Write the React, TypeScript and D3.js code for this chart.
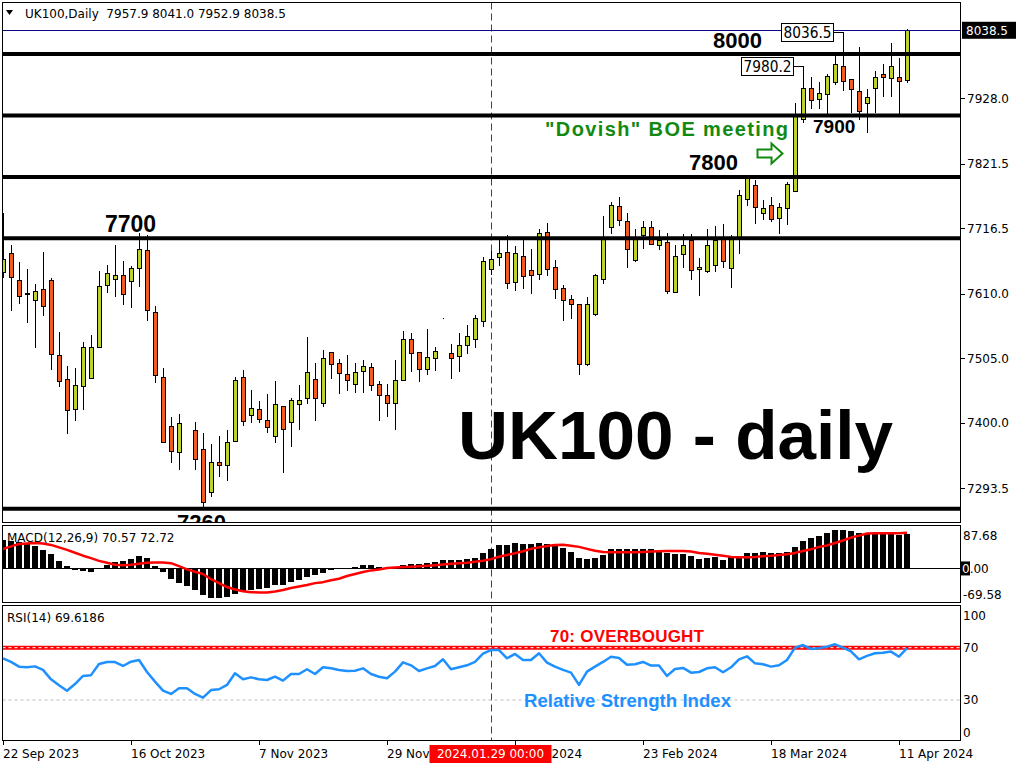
import React from 'react';
import * as d3 from 'd3';

// ---------- DATA ----------
const opens: (number | null)[] = [
  7645, 7677, 7633, 7611, 7599, 7617, 7632, 7510, 7471, 7422,
  7461, 7472, 7523, 7624, 7633, 7640, 7630, 7651, 7681, 7580,
  7474, 7394, 7352, null, 7389, 7357, 7287, 7336, 7331, 7370,
  7474, 7412, 7422, 7405, 7378, 7428, 7401, 7430, 7440, 7471,
  7432, 7515, 7497, 7480, 7463, 7484, 7490, 7463, 7445, 7432,
  7469, 7537, 7515, 7487, 7505, 7570, 7513, 7508, 7526, 7536,
  7565, 7650, 7669, 7678, 7629, 7672, 7648, 7643, 7711, 7654,
  7620, 7601, 7594, 7495, 7576, 7635, 7718, 7752, 7728, 7664,
  7705, 7718, 7690, 7694, 7612, 7674, 7698, 7650, 7646, 7657,
  7700, 7653, 7703, 7765, 7787, 7741, 7755, 7733, 7749, 7777,
  7894, 7944, 7926, 7935, 7954, 7981, 7959, 7940, 7920, 7944,
  7967, 7962, 7962, 7957.9,
];
const highs: (number | null)[] = [
  7741, 7690, 7661, 7650, 7625, 7678, 7635, 7548, 7492, 7489,
  7531, 7543, 7647, 7657, 7690, 7663, 7655, 7708, 7706, 7590,
  7489, 7409, 7414, null, 7401, 7383, 7365, 7378, 7389, 7474,
  7486, 7453, 7435, 7447, 7468, 7428, 7440, 7462, 7540, 7497,
  7518, 7515, 7504, 7510, 7497, 7502, 7497, 7468, 7463, 7502,
  7549, 7546, 7515, 7553, 7523, 7571, 7528, 7546, 7559, 7575,
  7669, 7680, 7697, 7706, 7688, 7697, 7683, 7715, 7725, 7665,
  7624, 7608, 7594, 7605, 7642, 7736, 7759, 7767, 7742, 7715,
  7728, 7728, 7713, 7708, 7689, 7707, 7707, 7668, 7715, 7720,
  7723, 7706, 7778, 7800, 7795, 7762, 7767, 7758, 7792, 7920,
  7980.2, 7962, 7955, 7968, 7996, 8036.5, 7960, 8011, 7943, 7973,
  7983, 8018, 7994, 8041.0,
];
const lows: (number | null)[] = [
  7635, 7582, 7594, 7563, 7521, 7574, 7486, 7459, 7382, 7403,
  7420, 7471, 7521, 7611, 7604, 7591, 7586, 7621, 7566, 7465,
  7368, 7335, 7324, null, 7324, 7263, 7280, 7311, 7306, 7368,
  7395, 7399, 7399, 7383, 7367, 7319, 7360, 7389, 7431, 7403,
  7425, 7471, 7447, 7452, 7449, 7449, 7452, 7403, 7410, 7389,
  7469, 7482, 7466, 7477, 7484, 7569, 7472, 7483, 7512, 7521,
  7556, 7640, 7655, 7618, 7614, 7618, 7610, 7633, 7638, 7602,
  7566, 7569, 7477, 7493, 7573, 7625, 7707, 7720, 7651, 7661,
  7683, 7689, 7681, 7609, 7611, 7652, 7633, 7606, 7644, 7646,
  7652, 7620, 7674, 7752, 7723, 7730, 7726, 7707, 7722, 7777,
  7888, 7910, 7910, 7903, 7950, 7939, 7904, 7893, 7872, 7904,
  7930, 7930, 7903, 7952.9,
];
const closes: (number | null)[] = [
  7666, 7638, 7607, 7610, 7614, 7589, 7511, 7467, 7420, 7461,
  7524, 7523, 7622, 7643, 7640, 7609, 7651, 7682, 7583, 7477,
  7369, 7354, 7399, null, 7342, 7271, 7336, 7331, 7368, 7469,
  7402, 7424, 7406, 7393, 7430, 7391, 7437, 7437, 7482, 7440,
  7505, 7495, 7480, 7471, 7482, 7492, 7461, 7445, 7432, 7469,
  7536, 7515, 7487, 7507, 7516, 7570, 7505, 7526, 7541, 7570,
  7663, 7667, 7676, 7627, 7676, 7640, 7640, 7709, 7651, 7619,
  7601, 7593, 7497, 7593, 7640, 7703, 7754, 7729, 7682, 7700,
  7718, 7690, 7698, 7614, 7671, 7689, 7649, 7654, 7689, 7697,
  7662, 7703, 7771, 7799, 7752, 7749, 7733, 7751, 7788, 7900,
  7944, 7925, 7936, 7964, 7984, 7957, 7942, 7907, 7930, 7962,
  7962, 7981, 7955, 8038.5,
];

const macdHist: number[] = [
  58, 56, 53, 51, 45, 38, 29, 16, 4, -3,
  -5, -7, -2, 8, 13, 16, 20, 26, 22, 5,
  -7, -21, -29, -36, -44, -55, -60, -61, -59, -53,
  -47, -44, -43, -39, -34, -33, -28, -24, -17, -13,
  -9, -4, -1, 0, 3, 6, 6, 3, 1, 3,
  8, 10, 10, 11, 13, 17, 17, 17, 19, 21,
  32, 40, 47, 47, 51, 49, 49, 52, 50, 50,
  42, 34, 22, 20, 22, 28, 40, 40, 40, 40,
  40, 40, 35, 31, 29, 29, 25, 20, 21, 23,
  18, 26, 26, 32, 32, 34, 32, 32, 34, 44,
  57, 63, 67, 72, 79, 79, 77, 73, 73, 73,
  73, 73, 68, 70.57,
];
const macdSignal: number[] = [
  39.8, 45, 50, 51, 52, 51, 48, 43, 38, 32,
  26, 21, 15.5, 11.5, 7.4, 6.7, 7.4, 9.4, 11.5, 12,
  12, 10.8, 4.7, -2, -6.7, -11.5, -22, -30, -38, -43,
  -46.5, -48.5, -49, -49, -47, -44, -40, -37, -34, -30,
  -28, -24, -21, -15.5, -11.5, -7.4, -4, -2, 0.7, 2,
  2.7, 3.4, 4.7, 5.4, 6.7, 8, 9.4, 10.8, 11.5, 13.5,
  15.5, 19, 24, 27.6, 31, 35, 40, 43, 46, 48,
  48.5, 46.5, 44, 40, 36, 33.7, 33, 33, 33, 33,
  33.7, 34.4, 35, 35.7, 35.7, 35.7, 34.4, 31.7, 30, 28,
  26, 23.6, 23, 23, 23.6, 25, 26, 27.6, 29, 31.7,
  35.7, 39, 44, 47, 52, 57, 63, 67, 71.4, 72,
  72, 72, 72, 72.72,
];
const rsiValues: number[] = [
  61.9, 59.1, 55.5, 55, 55.7, 53, 45.8, 41.2, 37.1, 42.2,
  48.4, 49, 57.5, 59, 59, 56, 59.3, 60.6, 51.4, 44,
  37.1, 34.6, 39, 39, 34.6, 31.8, 37.6, 38.2, 41.5, 50.4,
  45.8, 47.3, 45.8, 45.3, 47.8, 44.8, 49.9, 49.9, 53.5, 49.9,
  55, 54.2, 53, 52.2, 52.4, 54.2, 49.9, 47.8, 46.6, 51.7,
  58.8, 56.5, 52.2, 54.2, 56, 61.1, 53.5, 55, 56.5, 59.1,
  65.4, 68.2, 68.2, 61.9, 65.2, 60.6, 60.6, 65.7, 58.6, 55.5,
  53, 50.9, 41.5, 51.7, 55.5, 59.1, 63.1, 62.1, 57, 57.3,
  59.1, 56.3, 56.3, 48.4, 53.7, 54.5, 50.9, 51.4, 54.2, 55,
  51.2, 55, 61.1, 63.4, 58, 57.3, 55.5, 56.5, 60.6, 70,
  72, 69, 69.5, 70.8, 72.6, 70, 67.2, 61.1, 63.7, 65.7,
  66.2, 67, 63.1, 69.6186,
];

const priceDomain = [7238.6, 8084.5];
const priceTicks = [7293.5, 7400.0, 7505.0, 7610.0, 7716.5, 7821.5, 7928.0];
const levelValues = [8000, 7900, 7800, 7700, 7260];
const lastPrice = 8038.5;
const highMarkers = [100, 105]; // bar indexes labelled with their high

const macdDomain = [-69.58, 87.68];
const macdAxisLabels = ['87.68', '0.00', '-69.58'];
const rsiLevels = [70, 30];
const rsiAxisTicks = [100, 70, 30, 0];

const dateTickIndex = [0, 16, 32, 48, 64, 80, 96, 112];
const dateTickLabels = [
  '22 Sep 2023', '16 Oct 2023', '7 Nov 2023', '29 Nov 2023',
  '1 Feb 2024', '23 Feb 2024', '18 Mar 2024', '11 Apr 2024',
];
const cursorIndex = 61;
const cursorLabel = '2024.01.29 00:00';

// ---------- LAYOUT ----------
const W = 1024;
const H = 768;
const L = 2.5;
const R = 960.5;
const MAIN = { top: 2.5, bottom: 522.5 };
const MACDP = { top: 525.5, bottom: 602.5 };
const RSIP = { top: 605.5, bottom: 740.5 };

const BULL = '#BFD12C';
const BEAR = '#F25A1E';
const AXF = 'DejaVu Sans, Verdana, sans-serif';
const BOLDF = 'Liberation Sans, Arial, sans-serif';

export default function App() {
  const n = closes.length;
  const x = d3.scaleLinear().domain([0, n - 1]).range([3, 3 + 8 * (n - 1)]);
  const y = d3.scaleLinear().domain(priceDomain).range([522, 2]);
  const ym = d3.scaleLinear().domain(macdDomain).range([602.5, 525.5]);
  const yr = d3.scaleLinear().domain([0, 100]).range([739.2, 608.45]);

  const px = (i: number) => Math.round(x(i)) + 0.5;

  const signalLine = d3
    .line<number>()
    .x((_, i) => x(i))
    .y((d) => ym(d))(macdSignal) as string;
  const rsiLine = d3
    .line<number>()
    .x((_, i) => x(i))
    .y((d) => yr(d))(rsiValues) as string;

  const cx = px(cursorIndex);

  return (
    <svg
      width={W}
      height={H}
      style={{ position: 'absolute', left: 0, top: 0, background: '#fff' }}
      xmlns="http://www.w3.org/2000/svg"
    >
      <defs>
        <clipPath id="mainClip">
          <rect x={3} y={3} width={957} height={519} />
        </clipPath>
        <clipPath id="macdClip">
          <rect x={3} y={526} width={957} height={76} />
        </clipPath>
        <clipPath id="rsiClip">
          <rect x={3} y={606} width={957} height={134} />
        </clipPath>
      </defs>
      <rect x={0} y={0} width={W} height={H} fill="#fff" />

      {/* ---------- MAIN PANEL ---------- */}
      <g clipPath="url(#mainClip)">
        {/* cursor line */}
        <line x1={cx} x2={cx} y1={MAIN.top} y2={MAIN.bottom} stroke="#E00000" strokeDasharray="7,4" strokeWidth={1} />
        {/* candles */}
        {closes.map((c, i) => {
          const o = opens[i];
          const h = highs[i];
          const l = lows[i];
          if (c == null || o == null || h == null || l == null) return null;
          const xc = px(i);
          const yo = y(o);
          const yc = y(c);
          const top = Math.round(Math.min(yo, yc)) + 0.5;
          const ht = Math.max(0, Math.round(Math.abs(yo - yc)));
          return (
            <g key={i} shapeRendering="crispEdges">
              <line x1={xc} x2={xc} y1={Math.round(y(h))} y2={Math.round(y(l))} stroke="#000" strokeWidth={1} />
              <rect x={xc - 2} y={top} width={4} height={ht} fill={c >= o ? BULL : BEAR} stroke="#000" strokeWidth={1} />
            </g>
          );
        })}
        {/* level lines */}
        {levelValues.map((v) => (
          <line key={v} x1={1} x2={962} y1={y(v)} y2={y(v)} stroke="#000" strokeWidth={4} strokeLinecap="round" />
        ))}
        {/* last price line */}
        <line x1={L} x2={R} y1={Math.round(y(lastPrice)) + 0.5} y2={Math.round(y(lastPrice)) + 0.5} stroke="#0A0A8C" strokeWidth={1} shapeRendering="crispEdges" />

        {/* level labels */}
        <text x={105} y={y(7700) - 6.7} fontFamily={BOLDF} fontWeight="bold" fontSize={23} fill="#000">7700</text>
        <text x={713} y={y(8000) - 6.3} fontFamily={BOLDF} fontWeight="bold" fontSize={22} fill="#000">8000</text>
        <text x={813} y={y(7900) + 18} fontFamily={BOLDF} fontWeight="bold" fontSize={19} fill="#000">7900</text>
        <text x={689} y={y(7800) - 7} fontFamily={BOLDF} fontWeight="bold" fontSize={22} fill="#000">7800</text>
        <text x={177} y={y(7260) + 21} fontFamily={BOLDF} fontWeight="bold" fontSize={22} fill="#000">7260</text>

        {/* high markers */}
        {highMarkers.map((i) => {
          const hv = highs[i] as number;
          const yy = Math.round(y(hv)) + 0.5;
          const bx = px(i) - 10;
          return (
            <g key={'hm' + i}>
              <line x1={bx} x2={px(i)} y1={yy} y2={yy} stroke="#000" strokeWidth={1} shapeRendering="crispEdges" />
              <rect x={bx - 52} y={yy - 9} width={52} height={18} fill="#fff" stroke="#000" strokeWidth={1} shapeRendering="crispEdges" />
              <text x={bx - 26} y={yy + 5.5} textAnchor="middle" fontFamily={AXF} fontSize={15} textLength={48} lengthAdjust="spacingAndGlyphs" fill="#000">
                {hv.toFixed(1)}
              </text>
            </g>
          );
        })}

        {/* BOE annotation */}
        <text x={545} y={135.5} fontFamily={BOLDF} fontWeight="bold" fontSize={20} fill="#128A12" textLength={243} lengthAdjust="spacing">
          "Dovish" BOE meeting
        </text>
        <path
          d="M757.5,149.5 L771.5,149.5 L771.5,143.5 L782.5,153.5 L771.5,163.5 L771.5,157.5 L757.5,157.5 Z"
          fill="#fff"
          stroke="#128A12"
          strokeWidth={2}
        />

        {/* big title */}
        <text x={458} y={459} fontFamily={BOLDF} fontWeight="bold" fontSize={69} fill="#000" textLength={435} lengthAdjust="spacingAndGlyphs">
          UK100 - daily
        </text>
      </g>

      {/* chart header */}
      <path d="M6,10 L13,10 L9.5,15 Z" fill="#000" />
      <text x={25} y={18} fontFamily={AXF} fontSize={12} fill="#000" style={{ whiteSpace: 'pre' }}>
        UK100,Daily  7957.9 8041.0 7952.9 8038.5
      </text>

      {/* price axis */}
      {priceTicks.map((t) => (
        <g key={t}>
          <line x1={R} x2={R + 4} y1={Math.round(y(t)) + 0.5} y2={Math.round(y(t)) + 0.5} stroke="#000" shapeRendering="crispEdges" />
          <text x={967} y={y(t) + 4.5} fontFamily={AXF} fontSize={12} fill="#000">{t.toFixed(1)}</text>
        </g>
      ))}
      <rect x={962} y={y(lastPrice) - 8.5} width={54} height={17} fill="#000" />
      <text x={966} y={y(lastPrice) + 4.5} fontFamily={AXF} fontSize={12} fill="#fff">{lastPrice.toFixed(1)}</text>

      {/* ---------- MACD PANEL ---------- */}
      <g clipPath="url(#macdClip)">
        <line x1={cx} x2={cx} y1={MACDP.top} y2={MACDP.bottom} stroke="#E00000" strokeDasharray="7,4" />
        <line x1={L} x2={R} y1={Math.round(ym(0)) + 0.5} y2={Math.round(ym(0)) + 0.5} stroke="#000" shapeRendering="crispEdges" />
        {macdHist.map((v, i) => {
          const y0 = ym(0);
          const y1 = ym(v);
          return (
            <rect
              key={i}
              x={Math.round(x(i)) - 3}
              y={Math.min(y0, y1)}
              width={6}
              height={Math.max(0.5, Math.abs(y1 - y0))}
              fill="#000"
              shapeRendering="crispEdges"
            />
          );
        })}
        <path d={signalLine} fill="none" stroke="#FF0000" strokeWidth={2.5} strokeLinejoin="round" />
      </g>
      <text x={7} y={542} fontFamily={AXF} fontSize={12} fill="#000">MACD(12,26,9) 70.57 72.72</text>
      <text x={963} y={540} fontFamily={AXF} fontSize={12} fill="#000">{macdAxisLabels[0]}</text>
      <rect x={961} y={ym(0) - 7} width={9} height={14} fill="#000" />
      <text x={962} y={ym(0) + 4.5} fontFamily={AXF} fontSize={12} fill="#000">
        <tspan fill="#fff">{macdAxisLabels[1].slice(0, 1)}</tspan>
        <tspan>{macdAxisLabels[1].slice(1)}</tspan>
      </text>
      <text x={963} y={598.5} fontFamily={AXF} fontSize={12} fill="#000">{macdAxisLabels[2]}</text>

      {/* ---------- RSI PANEL ---------- */}
      <g clipPath="url(#rsiClip)">
        <line x1={cx} x2={cx} y1={RSIP.top} y2={RSIP.bottom} stroke="#E00000" strokeDasharray="7,4" />
        <line x1={L} x2={R} y1={yr(rsiLevels[1])} y2={yr(rsiLevels[1])} stroke="#BBBBBB" strokeDasharray="3,3" />
        <line x1={L} x2={R} y1={yr(rsiLevels[0])} y2={yr(rsiLevels[0])} stroke="#FF0000" strokeWidth={4} />
        <line x1={L} x2={R} y1={yr(rsiLevels[0])} y2={yr(rsiLevels[0])} stroke="#fff" strokeWidth={1} strokeDasharray="3,3" />
        <path d={rsiLine} fill="none" stroke="#1E90FF" strokeWidth={2.5} strokeLinejoin="round" />
        <text x={550} y={641.5} fontFamily={BOLDF} fontWeight="bold" fontSize={17} fill="#FF0000" textLength={154} lengthAdjust="spacing">
          70: OVERBOUGHT
        </text>
        <text x={524} y={707} fontFamily={BOLDF} fontWeight="bold" fontSize={18.6} fill="#1E90FF" textLength={207} lengthAdjust="spacing">
          Relative Strength Index
        </text>
      </g>
      <text x={7} y={622} fontFamily={AXF} fontSize={12} fill="#000">RSI(14) 69.6186</text>
      {rsiAxisTicks.map((t) => {
        const ty = t === 100 ? 620 : t === 0 ? 736.5 : yr(t) + 4.5;
        return (
          <text key={t} x={963} y={ty} fontFamily={AXF} fontSize={12} fill="#000">{t}</text>
        );
      })}

      {/* ---------- FRAMES ---------- */}
      {[MAIN, MACDP, RSIP].map((p, k) => (
        <rect key={k} x={L} y={p.top} width={R - L} height={p.bottom - p.top} fill="none" stroke="#000" strokeWidth={1} shapeRendering="crispEdges" />
      ))}

      {/* ---------- DATE AXIS ---------- */}
      {dateTickIndex.map((i, k) => (
        <g key={i}>
          <line x1={px(i)} x2={px(i)} y1={741} y2={745} stroke="#000" shapeRendering="crispEdges" />
          <text x={x(i)} y={758} fontFamily={AXF} fontSize={12} fill="#000">{dateTickLabels[k]}</text>
        </g>
      ))}
      <rect x={cx - 62} y={745} width={122} height={18} fill="#FF0000" />
      <text x={cx - 1} y={758} textAnchor="middle" fontFamily={AXF} fontSize={12} fill="#fff">{cursorLabel}</text>
    </svg>
  );
}
